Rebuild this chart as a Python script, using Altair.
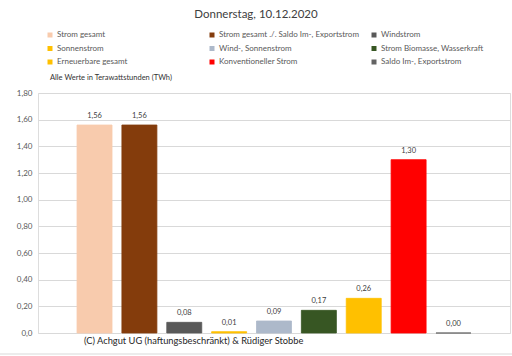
import altair as alt
import pandas as pd

categories = [
    "Strom gesamt",
    "Strom gesamt ./. Saldo Im-, Exportstrom",
    "Windstrom",
    "Sonnenstrom",
    "Wind-, Sonnenstrom",
    "Strom Biomasse, Wasserkraft",
    "Erneuerbare gesamt",
    "Konventioneller Strom",
    "Saldo Im-, Exportstrom",
]
values = [1.56, 1.56, 0.08, 0.01, 0.09, 0.17, 0.26, 1.30, 0.00]
colors = ["#F8CBAD", "#843C0C", "#595959", "#FFC000", "#ADB9CA",
          "#375623", "#FFC000", "#FF0000", "#636363"]
y_ticks = [0, 0.2, 0.4, 0.6, 0.8, 1.0, 1.2, 1.4, 1.6, 1.8]

title_text = "Donnerstag, 10.12.2020"
unit_note = "Alle Werte in Terawattstunden (TWh)"
credit = "(C) Achgut UG (haftungsbeschränkt) & Rüdiger Stobbe"

FONT = "Lato"

# legend is filled column by column; order entries so rows read like the reference
legend_order = [categories[r * 3 + c] for c in range(3) for r in range(3)]

df = pd.DataFrame({"cat": categories, "val": values})
df["label"] = df["val"].map(lambda v: f"{v:.2f}".replace(".", ","))

x = alt.X("cat:N", sort=categories, axis=None,
          scale=alt.Scale(paddingInner=0.22, paddingOuter=0.87))
y = alt.Y("val:Q", scale=alt.Scale(domain=[0, 1.8], nice=False),
          axis=alt.Axis(values=y_ticks, title=None, domain=False, ticks=False,
                        labelOverlap=False,
                        labelExpr="datum.value == 0 ? '0,0' : replace(format(datum.value, '.2f'), '.', ',')",
                        labelFontSize=8, labelColor="#595959", labelFont=FONT,
                        labelPadding=6, gridColor="#D9D9D9", gridWidth=1))

color_scale = alt.Scale(domain=categories, range=colors)

bars = alt.Chart(df).mark_bar(strokeWidth=0.8).encode(
    x=x, y=y,
    stroke=alt.Stroke("cat:N", scale=color_scale, legend=None),
    color=alt.Color("cat:N", sort=categories, scale=color_scale,
                    legend=alt.Legend(
                        title=None, orient="none", legendX=8, legendY=-62,
                        values=legend_order,
                        columns=3, gridAlign="all", columnPadding=11,
                        rowPadding=5.5, symbolType="square", symbolSize=25,
                        symbolStrokeWidth=0, labelFontSize=8, labelFont=FONT,
                        labelColor="#595959", labelOffset=3, labelLimit=300)),
)

labels = alt.Chart(df).mark_text(
    baseline="bottom", dy=-5, fontSize=7.5, font=FONT, color="#404040"
).encode(x=x, y=y, text="label:N")

note = alt.Chart(pd.DataFrame({"t": [unit_note]})).mark_text(
    align="left", baseline="middle", fontSize=7.5, font=FONT, color="#333333"
).encode(x=alt.value(12), y=alt.value(-15), text="t:N")

credit_mark = alt.Chart(pd.DataFrame({"t": [credit]})).mark_text(
    align="left", baseline="middle", fontSize=9.3, font=FONT, color="#262626"
).encode(x=alt.value(46), y=alt.value(248), text="t:N")

frame = alt.Chart(pd.DataFrame({"a": [0]})).mark_rule(
    color="#D9D9D9", strokeWidth=1
).encode(x=alt.value(-38), x2=alt.value(474), y=alt.value(261))

chart = alt.layer(bars, labels, note, credit_mark, frame).properties(
    width=472, height=240,
    autosize=alt.AutoSizeParams(type="none"),
    padding={"left": 38, "top": 93, "right": 2, "bottom": 23},
    title=alt.TitleParams(title_text, fontSize=11.5, font=FONT, fontWeight="normal",
                          color="#404040", anchor="middle", dx=-18, offset=11),
).configure_view(stroke=None).configure(background="white")

chart.save("out.html", embed_options={"renderer": "svg", "actions": False})
